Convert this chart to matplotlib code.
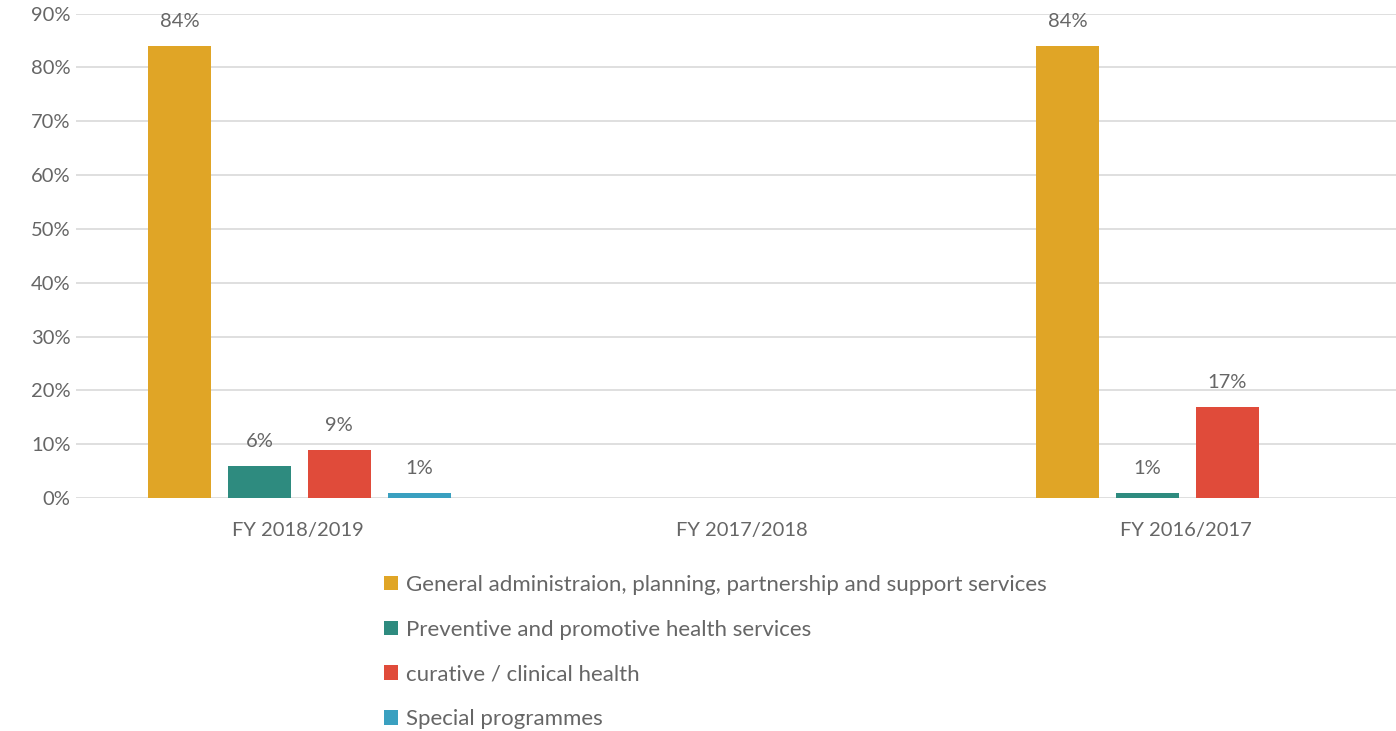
import numpy as np
import matplotlib.pyplot as plt
from matplotlib.patches import Patch

plt.rcParams['font.family'] = ['Lato', 'DejaVu Sans']

# Данные
years = ['FY 2018/2019', 'FY 2017/2018', 'FY 2016/2017']
series_names = [
    'General administraion, planning, partnership and support services',
    'Preventive and promotive health services',
    'curative / clinical health',
    'Special programmes',
]
general_admin = [84, np.nan, 84]
preventive = [6, np.nan, 1]
curative = [9, np.nan, 17]
special = [1, np.nan, np.nan]
colors = ['#E0A526', '#2E8B7F', '#E04B3A', '#3AA0C0']

values = [general_admin, preventive, curative, special]

fig = plt.figure(figsize=(13.96, 7.31), dpi=100)
ax = fig.add_axes([76 / 1396, 0.3187, 1332 / 1396, 0.6626])

x = np.arange(len(years))
bar_w = 0.142
step = 0.180
for i, (vals, col) in enumerate(zip(values, colors)):
    pos = x + (i - 1.5) * step + 0.003
    v = np.array(vals, dtype=float) / 100
    ax.bar(pos, v, width=bar_w, color=col, zorder=3)
    for p, val in zip(pos, vals):
        if not np.isnan(val):
            ax.text(p, val / 100 + 0.029, f'{val:.0f}%', ha='center', va='bottom',
                    fontsize=14.5, color='#666666')

ax.set_xlim(-0.5, 2.5)
ax.set_ylim(0, 0.9)
ax.set_yticks(np.arange(0, 0.91, 0.1))
ax.set_yticklabels([f'{t}%' for t in range(0, 91, 10)])
ax.set_xticks(x)
ax.set_xticklabels(years)
ax.tick_params(axis='both', length=0, labelsize=14.5, labelcolor='#666666')
ax.tick_params(axis='x', pad=17)
ax.tick_params(axis='y', pad=4)
ax.grid(axis='y', color='#d9d9d9', linewidth=1.2, zorder=0)
for s in ax.spines.values():
    s.set_visible(False)

handles = [Patch(facecolor=c) for c in colors]
fig.legend(handles, series_names, loc='upper left', bbox_to_anchor=(0.269, 0.226),
           frameon=False, fontsize=16, labelcolor='#666666', handlelength=0.62,
           handleheight=0.62, handletextpad=0.35, labelspacing=1.12, borderaxespad=0)

plt.savefig('out.png', dpi=100)
